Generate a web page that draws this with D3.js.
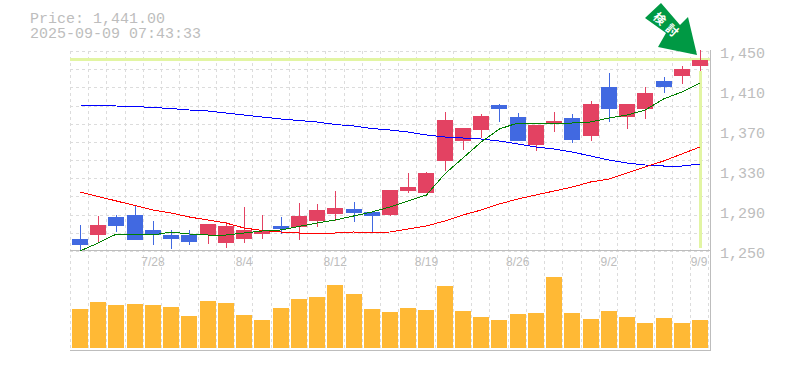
<!DOCTYPE html>
<html><head><meta charset="utf-8">
<script src="https://cdn.jsdelivr.net/npm/d3@7"></script>
<style>html,body{margin:0;padding:0;background:#fff}svg{display:block}</style>
</head><body><svg id="c" width="785" height="370"></svg>
<script>
const opens=[1262,1266,1284,1286,1271,1266,1266,1266,1258,1262,1267,1275,1274,1280,1287,1292,1289,1286,1310,1308,1340,1360,1371,1396,1384,1356,1377,1383,1365,1414,1384,1392,1420,1425,1435];
const closes=[1256,1276,1275,1261,1266,1262,1259,1277,1275,1271,1270,1272,1285,1291,1293,1288,1285,1311,1314,1328,1381,1373,1385,1392,1360,1376,1380,1361,1397,1392,1397,1408,1414,1432,1441];
const highs=[1276,1285,1286,1296,1280,1271,1271,1277,1279,1294,1286,1284,1298,1297,1310,1299,1290,1311,1328,1329,1389,1373,1387,1397,1388,1376,1389,1387,1400,1428,1397,1414,1424,1435,1451];
const lows=[1250,1259,1269,1261,1256,1252,1256,1257,1253,1258,1262,1267,1261,1274,1280,1279,1268,1285,1308,1308,1330,1351,1363,1379,1360,1350,1369,1358,1360,1379,1372,1382,1408,1417,1430];
const ma5=[1250,1258,1267,1267,1266,1269,1267,1266,1266,1268,1270,1271,1274.5,1278,1281,1285,1289,1294,1300,1306,1327,1343,1359,1372,1378,1378,1378,1378,1379,1383,1386,1391,1402,1409,1418];
const ma25=[1309,1304.5,1300,1295.5,1291,1288,1284,1281,1278,1273,1270.5,1269,1268,1268,1268,1269,1268.5,1269,1272,1275,1280,1286,1291,1297,1302,1306,1310,1314,1319,1322,1328,1334,1340,1347,1354];
const ma75=[1396,1395.5,1395,1394.5,1393.5,1392.5,1391,1390,1388,1386,1384,1382,1380.5,1379,1376.5,1375,1372.5,1371,1369,1366,1364,1363,1362,1360,1357,1354,1352,1349,1345,1341,1338,1336,1335,1335,1337];
const volumes=[39,46,43,44,43,41,32,47,45,33,28,40,49,51,63,54,39,36,40,38,62,37,31,28,34,35,71,35,29,37,31,25,30,25,28];
const dateLabels=["7/28","8/4","8/12","8/19","8/26","9/2","9/9"];
const dateIndex=[4,9,14,19,24,29,34];
const priceTicks=[1450,1410,1370,1330,1290,1250];
const title=["Price: 1,441.00","2025-09-09 07:43:33"];
const lastPrice=1441;
const arrowLabel="検討";

const svg=d3.select("#c");
const n=opens.length;
const x=d3.scaleLinear().domain([0,n-1]).range([80,700]);
const y=d3.scaleLinear().domain([1250,1450]).range([251,51]);
const v=d3.scaleLinear().domain([0,100]).range([348,248]);
const grey="#bdbdbd",gridC="#dcdcdc",hi="#e2f5a3",up="#e34262",down="#4169e1";
const mono="'Liberation Mono',monospace";

const grid=svg.append("g").attr("stroke",gridC).attr("stroke-dasharray","3,3").attr("shape-rendering","crispEdges");
d3.range(0,12).forEach(i=>{const p=51+i*200/11;grid.append("line").attr("x1",70).attr("x2",710).attr("y1",Math.round(p)+.5).attr("y2",Math.round(p)+.5);});
d3.range(0,36).forEach(i=>{const p=Math.floor(x(i)-9.5);grid.append("line").attr("x1",p+.5).attr("x2",p+.5).attr("y1",51).attr("y2",350);});

svg.append("line").attr("x1",70).attr("x2",710).attr("y1",y(lastPrice)-.5).attr("y2",y(lastPrice)-.5).attr("stroke",hi).attr("stroke-width",3);
svg.append("line").attr("x1",x(n-1)+.5).attr("x2",x(n-1)+.5).attr("y1",y(lows[n-1])).attr("y2",248).attr("stroke",hi).attr("stroke-width",3);

const frame=svg.append("g").attr("stroke",grey).attr("shape-rendering","crispEdges");
frame.append("line").attr("x1",70).attr("x2",710).attr("y1",250.5).attr("y2",250.5);
frame.append("line").attr("x1",70).attr("x2",710).attr("y1",350.5).attr("y2",350.5);
frame.append("line").attr("x1",710.5).attr("x2",710.5).attr("y1",50).attr("y2",351);

svg.append("g").selectAll("rect").data(volumes).join("rect")
 .attr("x",(d,i)=>Math.round(x(i))-8).attr("width",16)
 .attr("y",d=>v(d)).attr("height",d=>v(0)-v(d)).attr("fill","#ffb935");

const cs=svg.append("g").attr("shape-rendering","crispEdges");
opens.forEach((o,i)=>{
 const c=closes[i],col=c>=o?up:down,cx=Math.round(x(i));
 cs.append("line").attr("x1",cx+.5).attr("x2",cx+.5).attr("y1",y(highs[i])).attr("y2",y(lows[i])).attr("stroke",col);
 cs.append("rect").attr("x",cx-8).attr("width",16).attr("y",y(Math.max(o,c))).attr("height",Math.max(1,Math.abs(y(o)-y(c)))).attr("fill",col);
});

const line=d3.line().x((d,i)=>x(i)).y(d=>y(d));
[[ma75,"#0000ff"],[ma25,"#ff0000"],[ma5,"#008000"]].forEach(([s,col])=>{
 svg.append("path").attr("d",line(s)).attr("fill","none").attr("stroke",col).attr("stroke-width",1).attr("shape-rendering","crispEdges");
});

svg.append("g").selectAll("text").data(priceTicks).join("text")
 .attr("x",720).attr("y",d=>y(d)+7).attr("fill",grey).attr("font-family",mono).attr("font-size",15)
 .text(d=>d3.format(",")(d));
svg.append("g").selectAll("text").data(dateLabels).join("text")
 .attr("x",(d,i)=>x(dateIndex[i])-(i===dateLabels.length-1?1:0)).attr("y",266).attr("text-anchor","middle").attr("fill",grey)
 .attr("font-family","'Liberation Sans',sans-serif").attr("font-size",12).text(d=>d);
svg.append("g").selectAll("text").data(title).join("text")
 .attr("x",30).attr("y",(d,i)=>23+i*15).attr("fill",grey).attr("font-family",mono).attr("font-size",15).text(d=>d);

const arrow=svg.append("g");
arrow.append("path").attr("d",d3.line()([[661,3],[645,18],[666,33],[658,47],[697,55],[688,17],[680,25]])).attr("fill","#009944");
arrow.append("text").attr("transform","translate(667,27) rotate(42)").attr("text-anchor","middle").attr("dominant-baseline","middle")
 .attr("fill","#fff").attr("font-family","'Noto Sans CJK JP'").attr("font-weight",700).attr("font-size",12).attr("letter-spacing",5).text(arrowLabel);
</script></body></html>
